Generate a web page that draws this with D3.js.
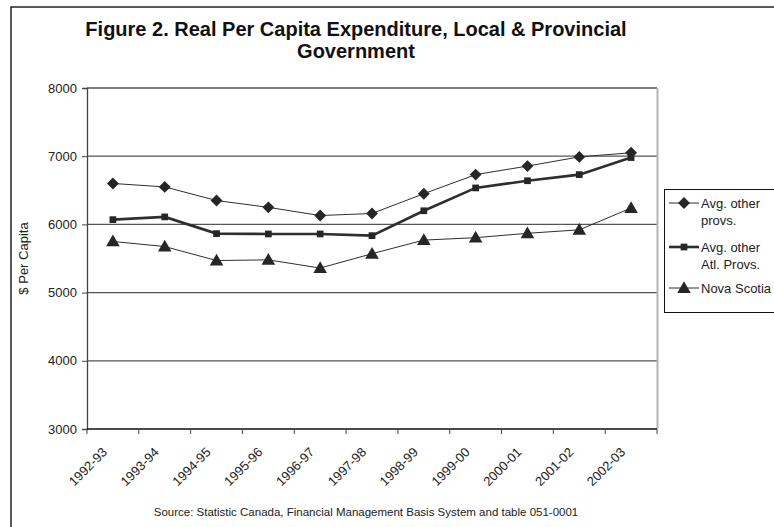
<!DOCTYPE html>
<html>
<head>
<meta charset="utf-8">
<script src="https://cdn.jsdelivr.net/npm/d3@7"></script>
<style>
  html, body { margin: 0; padding: 0; background: #fff; }
  svg { display: block; font-family: Arial, "Liberation Sans", sans-serif; }
</style>
</head>
<body>
<svg id="chart" width="774" height="527"></svg>
<script>
// Fiscal years on the category axis
const years = ["1992-93","1993-94","1994-95","1995-96","1996-97","1997-98",
               "1998-99","1999-00","2000-01","2001-02","2002-03"];

// Real per capita expenditure ($), local & provincial government
const avgOtherProvs    = [6600, 6550, 6350, 6250, 6130, 6160, 6450, 6730, 6855, 6990, 7050];
const avgOtherAtlProvs = [6070, 6110, 5865, 5860, 5860, 5835, 6200, 6535, 6640, 6730, 6980];
const novaScotia       = [5750, 5675, 5470, 5480, 5360, 5570, 5770, 5805, 5870, 5920, 6240];

const yTicks = [3000, 4000, 5000, 6000, 7000, 8000];

const series = [
  { name: ["Avg. other", "provs."],      values: avgOtherProvs,    marker: "diamond",  width: 1 },
  { name: ["Avg. other", "Atl. Provs."], values: avgOtherAtlProvs, marker: "square",   width: 2.6 },
  { name: ["Nova Scotia"],               values: novaScotia,       marker: "triangle", width: 1 }
];

const svg = d3.select("#chart");
const plot = { left: 87, right: 657, top: 88, bottom: 429 };
const FONT = 13;

// Outer frame (runs past the right and bottom edges)
svg.append("rect")
  .attr("x", 11).attr("y", 7).attr("width", 800).attr("height", 560)
  .attr("fill", "none").attr("stroke", "#222").attr("stroke-width", 1.5);

// Title
const title = svg.append("text")
  .attr("text-anchor", "middle")
  .attr("font-weight", "bold").attr("font-size", 20).attr("fill", "#111");
title.append("tspan").attr("x", 356).attr("y", 36)
  .text("Figure 2. Real Per Capita Expenditure, Local & Provincial");
title.append("tspan").attr("x", 356).attr("y", 58).text("Government");

const x = d3.scaleBand().domain(years).range([plot.left, plot.right]);
const y = d3.scaleLinear().domain([3000, 8000]).range([plot.bottom, plot.top]);

// Horizontal gridlines
svg.append("g").selectAll("line")
  .data(yTicks.filter(t => t > 3000))
  .join("line")
  .attr("x1", plot.left).attr("x2", plot.right)
  .attr("y1", d => y(d)).attr("y2", d => y(d))
  .attr("stroke", "#555").attr("stroke-width", 1.3);

// Right edge of the plot area
svg.append("line")
  .attr("x1", plot.right + 0.5).attr("x2", plot.right + 0.5)
  .attr("y1", plot.top).attr("y2", plot.bottom)
  .attr("stroke", "#b4b4b4").attr("stroke-width", 2);

// Y axis
const yAxis = svg.append("g")
  .attr("transform", `translate(${plot.left},0)`)
  .call(d3.axisLeft(y).tickValues(yTicks).tickSize(5).tickPadding(5).tickFormat(d3.format("d")));
yAxis.select(".domain").attr("stroke", "#444").attr("stroke-width", 1.3);
yAxis.selectAll(".tick line").attr("stroke", "#444");
yAxis.selectAll("text").attr("font-size", FONT).attr("fill", "#222")
  .attr("font-family", "Arial, 'Liberation Sans', sans-serif");

// X axis: ticks at category boundaries, labels at category centres
const xAxis = svg.append("g")
  .attr("transform", `translate(0,${plot.bottom})`);
xAxis.append("line")
  .attr("x1", plot.left).attr("x2", plot.right)
  .attr("stroke", "#111").attr("stroke-width", 1.5);
const bounds = years.map(d => x(d)).concat([plot.right]);
xAxis.selectAll(".tk").data(bounds).join("line").attr("class", "tk")
  .attr("x1", d => d).attr("x2", d => d).attr("y1", 0).attr("y2", 5)
  .attr("stroke", "#444");
xAxis.selectAll(".lbl").data(years).join("text").attr("class", "lbl")
  .attr("text-anchor", "end")
  .attr("font-size", FONT).attr("fill", "#222")
  .attr("transform", d => `translate(${x(d) + x.bandwidth() / 2 - 5},${24}) rotate(-45)`)
  .text(d => d);

// Y axis title
svg.append("text")
  .attr("transform", `translate(27.5,${(plot.top + plot.bottom) / 2}) rotate(-90)`)
  .attr("text-anchor", "middle").attr("font-size", FONT).attr("fill", "#222")
  .text("$ Per Capita");

// Marker shapes
const markerPath = {
  diamond:  d3.symbol().type(d3.symbolDiamond2).size(90)(),
  square:   d3.symbol().type(d3.symbolSquare).size(45)(),
  triangle: d3.symbol().type(d3.symbolTriangle).size(80)()
};
const markerShift = { diamond: 0, square: 0, triangle: 1 };

const cx = d => x(d) + x.bandwidth() / 2;
const line = d3.line().x((v, i) => cx(years[i])).y(v => y(v));

series.forEach(s => {
  svg.append("path")
    .attr("d", line(s.values))
    .attr("fill", "none").attr("stroke", "#2e2e2e").attr("stroke-width", s.width);
  svg.append("g").selectAll("path")
    .data(s.values)
    .join("path")
    .attr("d", markerPath[s.marker])
    .attr("transform", (v, i) => `translate(${cx(years[i])},${y(v) + markerShift[s.marker]})`)
    .attr("fill", "#262626");
});

// Legend
const lg = svg.append("g");
lg.append("rect")
  .attr("x", 664.5).attr("y", 189.5).attr("width", 130).attr("height", 123)
  .attr("fill", "#fff").attr("stroke", "#111").attr("stroke-width", 1);
const legendY = [203, 247, 288];
series.forEach((s, i) => {
  const ly = legendY[i];
  lg.append("line")
    .attr("x1", 669).attr("x2", 699).attr("y1", ly).attr("y2", ly)
    .attr("stroke", "#2e2e2e").attr("stroke-width", s.width);
  lg.append("path").attr("d", markerPath[s.marker])
    .attr("transform", `translate(684,${ly + markerShift[s.marker]})`)
    .attr("fill", "#262626");
  const t = lg.append("text").attr("font-size", FONT).attr("fill", "#222");
  s.name.forEach((n, k) => {
    t.append("tspan").attr("x", 701).attr("y", ly + 4.5 + k * 17).text(n);
  });
});

// Source note
svg.append("text")
  .attr("x", 366).attr("y", 516)
  .attr("text-anchor", "middle").attr("font-size", 11.5).attr("fill", "#222")
  .text("Source: Statistic Canada, Financial Management Basis System and table 051-0001");
</script>
</body>
</html>
